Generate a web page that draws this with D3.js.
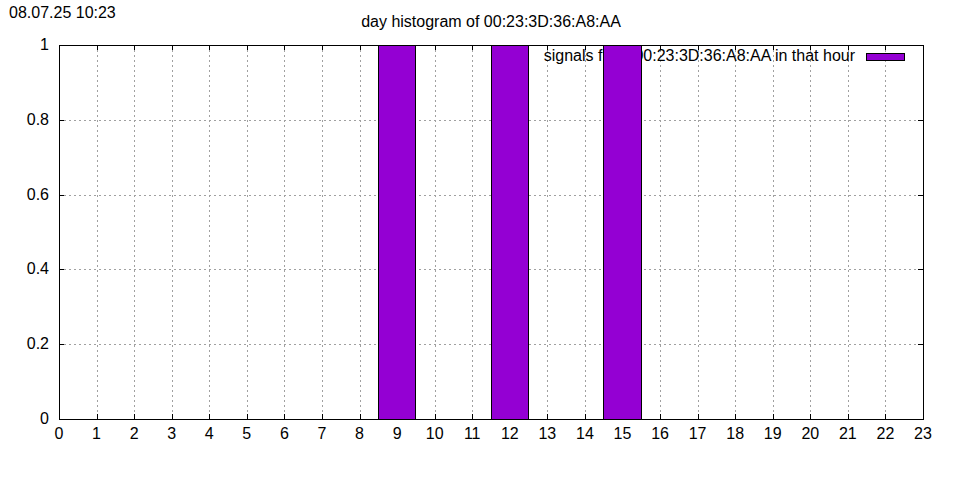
<!DOCTYPE html>
<html><head><meta charset="utf-8">
<script src="https://cdn.jsdelivr.net/npm/d3@7"></script>
<style>body{margin:0;background:#fff}svg{display:block}text{font-family:"Liberation Sans",Arial,sans-serif;fill:#000}</style>
</head><body><svg id="c" width="960" height="480"></svg>
<script>
const hours = d3.range(0, 24);
const counts = [0,0,0,0,0,0,0,0,0,1,0,0,1,0,0,1,0,0,0,0,0,0,0,0];
const yTicks = [0, 0.2, 0.4, 0.6, 0.8, 1];
const xTicks = d3.range(0, 24);
const yTickLabels = ["0","0.2","0.4","0.6","0.8","1"];
const title = "day histogram of 00:23:3D:36:A8:AA";
const stamp = "08.07.25 10:23";
const legendLabel = "signals from 00:23:3D:36:A8:AA in that hour";

const svg = d3.select("#c");
const L = 59, R = 923, T = 45, B = 419;
const x = d3.scaleLinear().domain([0, 23]).range([L, R]);
const y = d3.scaleLinear().domain([0, 1]).range([B, T]);
const color = "#9400D3";
const fs = 16;

svg.append("text").attr("x", 9).attr("y", 18).attr("font-size", fs).text(stamp);
svg.append("text").attr("x", 491).attr("y", 27).attr("text-anchor", "middle").attr("font-size", fs).text(title);

// grid
const g = svg.append("g");
xTicks.slice(1, -1).forEach(t => g.append("line").attr("x1", Math.round(x(t))+0.5).attr("x2", Math.round(x(t))+0.5).attr("y1", T).attr("y2", B)
  .attr("stroke", "#a0a0a0").attr("stroke-dasharray", "2,3").attr("stroke-width", 1));
yTicks.slice(1, -1).forEach(t => g.append("line").attr("x1", L).attr("x2", R).attr("y1", Math.round(y(t))+0.5).attr("y2", Math.round(y(t))+0.5)
  .attr("stroke", "#a0a0a0").attr("stroke-dasharray", "2,3").attr("stroke-width", 1));

// ticks (inward, mirrored)
const tl = 5;
xTicks.forEach(t => {
  const px = Math.round(x(t)) + 0.5;
  g.append("line").attr("x1", px).attr("x2", px).attr("y1", B).attr("y2", B - tl).attr("stroke", "#000");
  g.append("line").attr("x1", px).attr("x2", px).attr("y1", T).attr("y2", T + tl).attr("stroke", "#000");
  svg.append("text").attr("x", x(t)).attr("y", B + 20).attr("text-anchor", "middle").attr("font-size", fs).text(t);
});
yTicks.forEach((t, i) => {
  const py = Math.round(y(t)) + 0.5;
  g.append("line").attr("x1", L).attr("x2", L + tl).attr("y1", py).attr("y2", py).attr("stroke", "#000");
  g.append("line").attr("x1", R).attr("x2", R - tl).attr("y1", py).attr("y2", py).attr("stroke", "#000");
  svg.append("text").attr("x", L - 10).attr("y", y(t) + 5).attr("text-anchor", "end").attr("font-size", fs).text(yTickLabels[i]);
});

// legend
svg.append("text").attr("x", 855).attr("y", 61).attr("text-anchor", "end").attr("font-size", fs).text(legendLabel);
svg.append("rect").attr("x", 866.5).attr("y", 53.5).attr("width", 38).attr("height", 7).attr("fill", color).attr("stroke", "#000");

// bars
svg.append("g").selectAll("rect").data(hours.filter((h, i) => counts[i] > 0)).join("rect")
  .attr("x", h => Math.floor(x(h - 0.5)) + 0.5)
  .attr("width", h => Math.floor(x(h + 0.5)) - Math.floor(x(h - 0.5)))
  .attr("y", h => Math.round(y(counts[h])) + 0.5)
  .attr("height", h => Math.round(y(0)) - Math.round(y(counts[h])))
  .attr("fill", color).attr("stroke", "#000");

// border
svg.append("rect").attr("x", L + 0.5).attr("y", T + 0.5).attr("width", R - L).attr("height", B - T)
  .attr("fill", "none").attr("stroke", "#000");
</script></body></html>
